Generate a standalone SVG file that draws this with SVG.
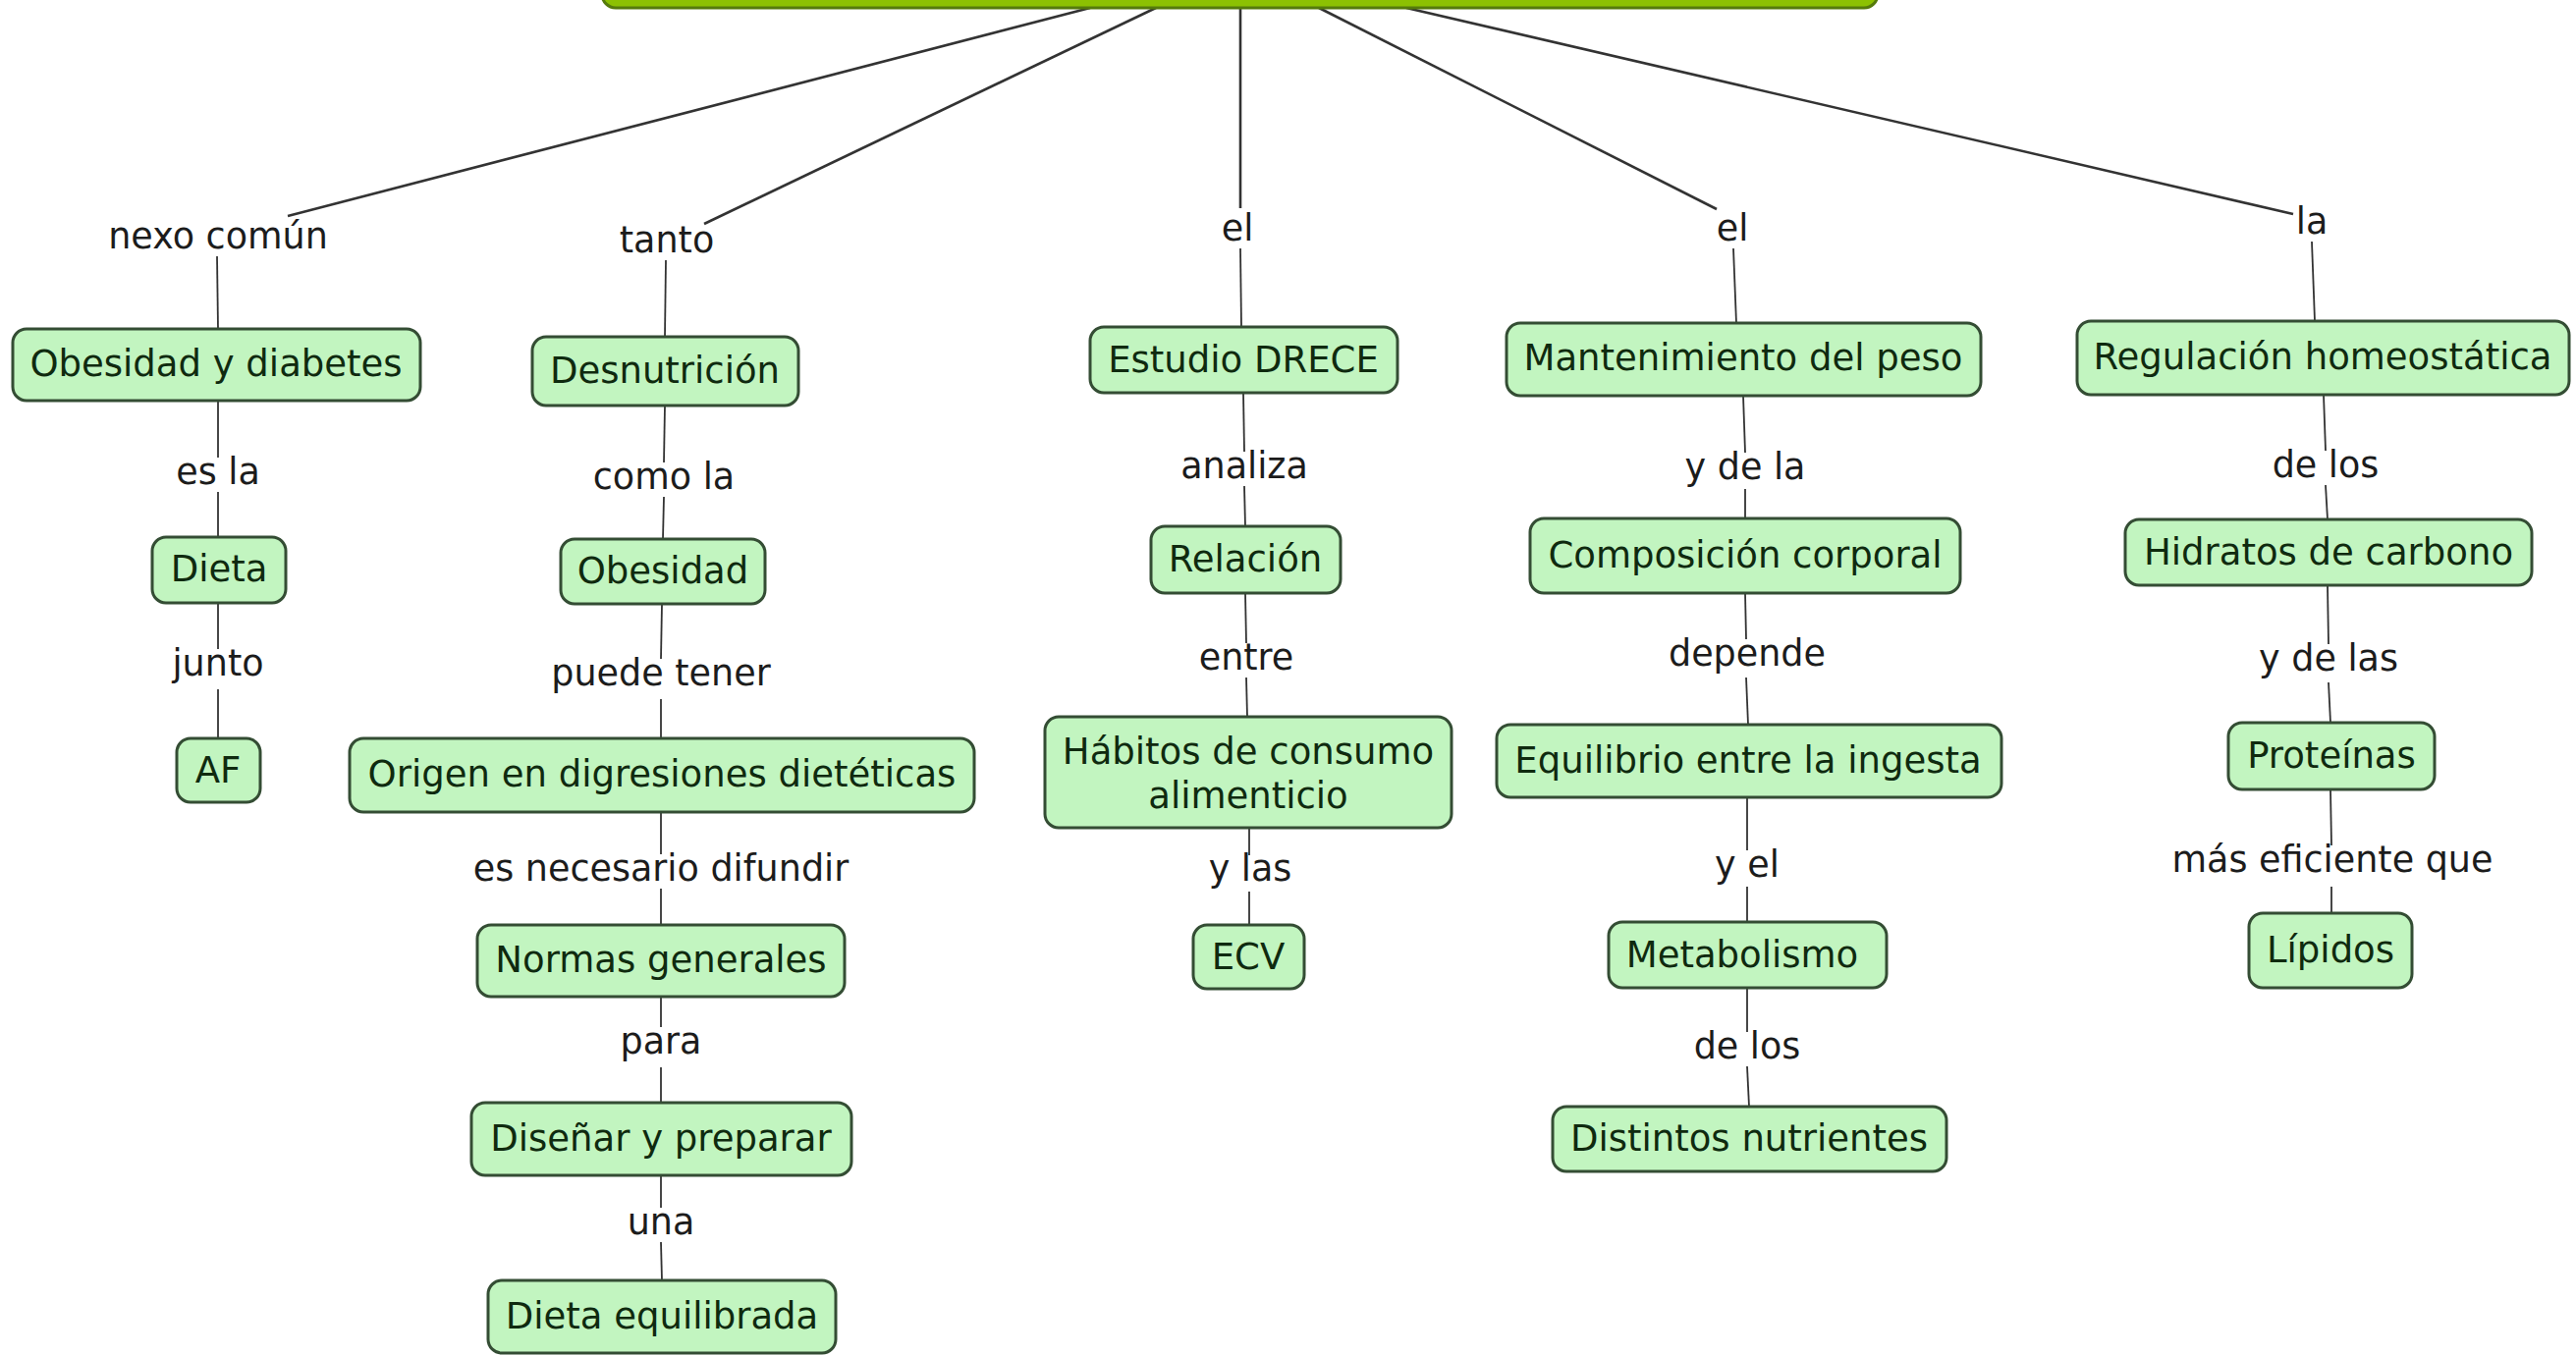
<svg xmlns="http://www.w3.org/2000/svg" width="2623" height="1381" viewBox="0 0 2623 1381">
<style>
.n rect{fill:#c2f5c0;stroke:#344d34;stroke-width:3}
.n text{font-family:"DejaVu Sans","Liberation Sans",sans-serif;font-size:37px;fill:#0f2a0f;text-anchor:middle}
.l text{font-family:"DejaVu Sans","Liberation Sans",sans-serif;font-size:36.5px;fill:#1c1c1c;text-anchor:middle}
#connectors line{stroke:#333;stroke-width:1.8;fill:none}
#connectors line.t{stroke-width:2.6}
</style>
<rect width="2623" height="1381" fill="#ffffff"/>
<g id="connectors">
<line class="t" x1="1110" y1="8" x2="293" y2="220"/>
<line class="t" x1="1177" y1="8" x2="717" y2="228"/>
<line class="t" x1="1263" y1="8" x2="1263" y2="212"/>
<line class="t" x1="1343" y1="8" x2="1748" y2="213"/>
<line class="t" x1="1432" y1="8" x2="2335" y2="218"/>
<line x1="221" y1="261" x2="222" y2="335"/>
<line x1="222" y1="408" x2="222" y2="466"/>
<line x1="222" y1="501" x2="222" y2="547"/>
<line x1="222" y1="614" x2="222" y2="661"/>
<line x1="222" y1="702" x2="222" y2="752"/>
<line x1="678" y1="265" x2="677" y2="343"/>
<line x1="677" y1="413" x2="676" y2="471"/>
<line x1="676" y1="506" x2="675" y2="549"/>
<line x1="674" y1="615" x2="673" y2="671"/>
<line x1="673" y1="712" x2="673" y2="752"/>
<line x1="673" y1="827" x2="673" y2="870"/>
<line x1="673" y1="905" x2="673" y2="942"/>
<line x1="673" y1="1015" x2="673" y2="1046"/>
<line x1="673" y1="1087" x2="673" y2="1123"/>
<line x1="673" y1="1197" x2="673" y2="1230"/>
<line x1="673" y1="1265" x2="674" y2="1304"/>
<line x1="1263" y1="253" x2="1264" y2="333"/>
<line x1="1266" y1="400" x2="1267" y2="460"/>
<line x1="1267" y1="495" x2="1268" y2="536"/>
<line x1="1268" y1="604" x2="1269" y2="655"/>
<line x1="1269" y1="690" x2="1270" y2="730"/>
<line x1="1272" y1="843" x2="1272" y2="871"/>
<line x1="1272" y1="908" x2="1272" y2="942"/>
<line x1="1765" y1="253" x2="1768" y2="329"/>
<line x1="1775" y1="403" x2="1777" y2="461"/>
<line x1="1777" y1="498" x2="1777" y2="528"/>
<line x1="1777" y1="604" x2="1778" y2="651"/>
<line x1="1778" y1="690" x2="1780" y2="738"/>
<line x1="1779" y1="812" x2="1779" y2="866"/>
<line x1="1779" y1="903" x2="1779" y2="939"/>
<line x1="1779" y1="1006" x2="1779" y2="1051"/>
<line x1="1779" y1="1086" x2="1781" y2="1127"/>
<line x1="2354" y1="246" x2="2357" y2="327"/>
<line x1="2366" y1="402" x2="2368" y2="459"/>
<line x1="2368" y1="494" x2="2370" y2="529"/>
<line x1="2370" y1="596" x2="2371" y2="656"/>
<line x1="2371" y1="695" x2="2373" y2="736"/>
<line x1="2373" y1="804" x2="2374" y2="861"/>
<line x1="2374" y1="903" x2="2374" y2="930"/>
</g>
<g id="top"><rect x="613" y="-60" width="1299" height="68" rx="14" fill="#8cc102" stroke="#557a0c" stroke-width="3"/></g>
<g class="l">
<g id="l1"><text x="222" y="253">nexo común</text></g>
<g id="l2"><text x="679" y="257">tanto</text></g>
<g id="l3"><text x="1260" y="245">el</text></g>
<g id="l4"><text x="1764" y="245">el</text></g>
<g id="l5"><text x="2354" y="238">la</text></g>
<g id="l6"><text x="222" y="493">es la</text></g>
<g id="l7"><text x="222" y="688">junto</text></g>
<g id="l8"><text x="676" y="498">como la</text></g>
<g id="l9"><text x="673" y="698">puede tener</text></g>
<g id="l10"><text x="673" y="897">es necesario difundir</text></g>
<g id="l11"><text x="673" y="1073">para</text></g>
<g id="l12"><text x="673" y="1257">una</text></g>
<g id="l13"><text x="1267" y="487">analiza</text></g>
<g id="l14"><text x="1269" y="682">entre</text></g>
<g id="l15"><text x="1273" y="897">y las</text></g>
<g id="l16"><text x="1777" y="488">y de la</text></g>
<g id="l17"><text x="1779" y="678">depende</text></g>
<g id="l18"><text x="1779" y="893">y el</text></g>
<g id="l19"><text x="1779" y="1078">de los</text></g>
<g id="l20"><text x="2368" y="486">de los</text></g>
<g id="l21"><text x="2371" y="683">y de las</text></g>
<g id="l22"><text x="2375" y="888">más eficiente que</text></g>
</g>
<g class="n">
<g id="n1"><rect x="13" y="335" width="415" height="73" rx="14"/><text x="220" y="383">Obesidad y diabetes</text></g>
<g id="n2"><rect x="155" y="547" width="136" height="67" rx="14"/><text x="223" y="592">Dieta</text></g>
<g id="n3"><rect x="180" y="752" width="85" height="65" rx="14"/><text x="222" y="797">AF</text></g>
<g id="n4"><rect x="542" y="343" width="271" height="70" rx="14"/><text x="677" y="390">Desnutrición</text></g>
<g id="n5"><rect x="571" y="549" width="208" height="66" rx="14"/><text x="675" y="594">Obesidad</text></g>
<g id="n6"><rect x="356" y="752" width="636" height="75" rx="14"/><text x="674" y="801">Origen en digresiones dietéticas</text></g>
<g id="n7"><rect x="486" y="942" width="374" height="73" rx="14"/><text x="673" y="990">Normas generales</text></g>
<g id="n8"><rect x="480" y="1123" width="387" height="74" rx="14"/><text x="673" y="1172">Diseñar y preparar</text></g>
<g id="n9"><rect x="497" y="1304" width="354" height="74" rx="14"/><text x="674" y="1353">Dieta equilibrada</text></g>
<g id="n10"><rect x="1110" y="333" width="313" height="67" rx="14"/><text x="1266" y="379">Estudio DRECE</text></g>
<g id="n11"><rect x="1172" y="536" width="193" height="68" rx="14"/><text x="1268" y="582">Relación</text></g>
<g id="n12"><rect x="1064" y="730" width="414" height="113" rx="14"/><text x="1271" y="778">Hábitos de consumo</text><text x="1271" y="823">alimenticio</text></g>
<g id="n13"><rect x="1215" y="942" width="113" height="65" rx="14"/><text x="1271" y="987">ECV</text></g>
<g id="n14"><rect x="1534" y="329" width="483" height="74" rx="14"/><text x="1775" y="377">Mantenimiento del peso</text></g>
<g id="n15"><rect x="1558" y="528" width="438" height="76" rx="14"/><text x="1777" y="578">Composición corporal</text></g>
<g id="n16"><rect x="1524" y="738" width="514" height="74" rx="14"/><text x="1780" y="787">Equilibrio entre la ingesta</text></g>
<g id="n17"><rect x="1638" y="939" width="283" height="67" rx="14"/><text x="1774" y="985">Metabolismo</text></g>
<g id="n18"><rect x="1581" y="1127" width="401" height="66" rx="14"/><text x="1781" y="1172">Distintos nutrientes</text></g>
<g id="n19"><rect x="2115" y="327" width="501" height="75" rx="14"/><text x="2365" y="376">Regulación homeostática</text></g>
<g id="n20"><rect x="2164" y="529" width="414" height="67" rx="14"/><text x="2371" y="575">Hidratos de carbono</text></g>
<g id="n21"><rect x="2269" y="736" width="210" height="68" rx="14"/><text x="2374" y="782">Proteínas</text></g>
<g id="n22"><rect x="2290" y="930" width="166" height="76" rx="14"/><text x="2373" y="980">Lípidos</text></g>
</g>
</svg>
